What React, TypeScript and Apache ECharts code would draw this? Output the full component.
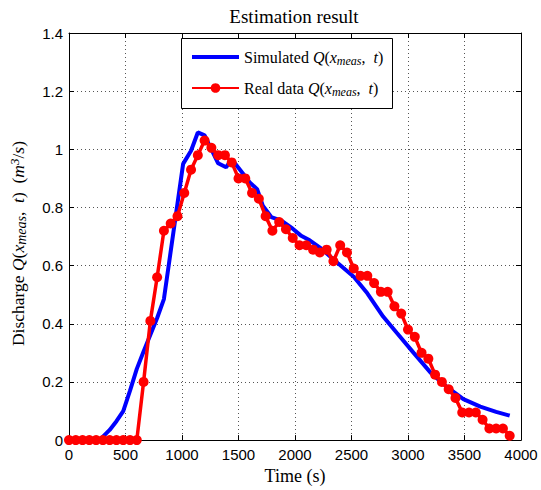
import React, { useEffect, useRef } from "react";
import * as echarts from "echarts";

// Real data (sampled every 60 s)
const realTimes = [
  0, 60, 120, 180, 240, 300, 360, 420, 480, 540, 600, 660, 720, 780, 840, 900,
  960, 1020, 1080, 1140, 1200, 1260, 1320, 1380, 1440, 1500, 1560, 1620, 1680,
  1740, 1800, 1860, 1920, 1980, 2040, 2100, 2160, 2220, 2280, 2340, 2400, 2460,
  2520, 2580, 2640, 2700, 2760, 2820, 2880, 2940, 3000, 3060, 3120, 3180, 3240,
  3300, 3360, 3420, 3480, 3540, 3600, 3660, 3720, 3780, 3840, 3900,
];
const realValues = [
  0, 0, 0, 0, 0, 0, 0, 0, 0, 0, 0, 0.2, 0.41, 0.56, 0.72, 0.745, 0.77, 0.85,
  0.93, 0.98, 1.03, 1.005, 0.98, 0.98, 0.955, 0.9, 0.9, 0.85, 0.83, 0.77, 0.72,
  0.75, 0.725, 0.695, 0.67, 0.67, 0.655, 0.645, 0.655, 0.615, 0.67, 0.645, 0.59,
  0.565, 0.565, 0.54, 0.51, 0.51, 0.46, 0.435, 0.38, 0.355, 0.3, 0.28, 0.225,
  0.2, 0.175, 0.145, 0.095, 0.095, 0.095, 0.07, 0.04, 0.04, 0.04, 0.015,
];

// Simulated curve
const simTimes = [
  0, 270, 360, 420, 480, 540, 600, 660, 720, 780, 840, 1010, 1080, 1140, 1200,
  1260, 1320, 1390, 1440, 1520, 1600, 1665, 1715, 1790, 1880, 1980, 2050, 2130,
  2230, 2380, 2520, 2640, 2780, 2900, 3050, 3200, 3350, 3490, 3640, 3780, 3900,
];
const simValues = [
  0, 0, 0.035, 0.065, 0.1, 0.17, 0.245, 0.305, 0.362, 0.42, 0.485, 0.95, 0.995,
  1.058, 1.048, 1.0, 0.952, 0.938, 0.966, 0.926, 0.886, 0.863, 0.806, 0.767,
  0.755, 0.727, 0.704, 0.687, 0.659, 0.608, 0.562, 0.505, 0.425, 0.369, 0.3,
  0.232, 0.181, 0.141, 0.115, 0.097, 0.084,
];

const xTicks = { min: 0, max: 4000, interval: 500 };
const yTicks = { min: 0, max: 1.4, interval: 0.2 };

const SERIF = "'Liberation Serif', 'DejaVu Serif', serif";
const SANS = "'Liberation Sans', Arial, sans-serif";

const richMath = (size: number, lh: number) => ({
  n: { fontFamily: SERIF, fontSize: size, color: "#000", lineHeight: lh },
  i: { fontFamily: SERIF, fontSize: size, fontStyle: "italic", color: "#000", lineHeight: lh },
  sub: {
    fontFamily: SERIF,
    fontSize: Math.round(size * 0.78),
    fontStyle: "italic",
    color: "#000",
    lineHeight: Math.round(size * 0.66),
    verticalAlign: "bottom",
  },
  sup: {
    fontFamily: SERIF,
    fontSize: Math.round(size * 0.72),
    fontStyle: "italic",
    color: "#000",
    lineHeight: Math.round(size * 0.62),
    verticalAlign: "top",
  },
});

const qLabel = "{i|Q}{n|(}{i|x}{sub|meas}{n|,  }{i|t}{n|)}";

export default function App() {
  const ref = useRef<HTMLDivElement>(null);

  useEffect(() => {
    if (!ref.current) return;
    const chart = echarts.init(ref.current, null, { renderer: "svg" });

    const gridLine = {
      show: true,
      lineStyle: { color: "#555", width: 1, type: [1, 3] as any },
    };
    const axisLine = { show: true, onZero: false, lineStyle: { color: "#000", width: 1 } };
    const tick = { show: true, inside: true, length: 5, lineStyle: { color: "#000" } };

    chart.setOption({
      animation: false,
      backgroundColor: "#fff",
      grid: { left: 67, right: 20, top: 33, bottom: 47, containLabel: false },
      graphic: [
        {
          type: "text",
          x: 294,
          y: 7,
          z: 10,
          style: {
            text: "Estimation result",
            font: `19px ${SERIF}`,
            fill: "#000",
            textAlign: "center",
            textVerticalAlign: "top",
          },
        },
        {
          type: "rect",
          z: 3,
          shape: { x: 181.5, y: 38.5, width: 211, height: 70 },
          style: { fill: "#fff", stroke: "#000", lineWidth: 1 },
        },
      ],
      legend: {
        show: true,
        orient: "vertical",
        left: 191,
        top: 49,
        z: 5,
        itemWidth: 47,
        itemHeight: 12,
        itemGap: 13,
        padding: 0,
        data: [
          { name: "Simulated", icon: "path://M0,0 L47,0 L47,4 L0,4 Z" },
          { name: "Real data" },
        ],
        formatter: (name: string) =>
          name === "Simulated" ? `{n|Simulated }${qLabel}` : `{n|Real data }${qLabel}`,
        textStyle: { rich: richMath(16, 20), padding: [0, 0, 0, 0] },
      },
      xAxis: [
        {
          type: "value",
          position: "bottom",
          ...xTicks,
          name: "Time (s)",
          nameLocation: "middle",
          nameGap: 24,
          nameTextStyle: { fontFamily: SERIF, fontSize: 18, color: "#000" },
          axisLine,
          axisTick: tick,
          axisLabel: {
            fontFamily: SANS,
            fontSize: 15,
            color: "#000",
            margin: 7,
            formatter: (v: number) => String(v),
          },
          splitLine: gridLine,
        },
        {
          type: "value",
          position: "top",
          ...xTicks,
          axisLine,
          axisTick: tick,
          axisLabel: { show: false },
          splitLine: { show: false },
        },
      ],
      yAxis: [
        {
          type: "value",
          position: "left",
          ...yTicks,
          name: `{n|Discharge }${qLabel}{n|  (}{i|m}{sup|3}{n|/}{i|s}{n|)}`,
          nameLocation: "middle",
          nameGap: 41,
          nameRotate: 90,
          nameTextStyle: { rich: richMath(17.5, 20), padding: [0, 14, 0, 0] },
          axisLine,
          axisTick: tick,
          axisLabel: {
            fontFamily: SANS,
            fontSize: 15,
            color: "#000",
            margin: 6,
            formatter: (v: number) => String(Math.round(v * 10) / 10),
          },
          splitLine: gridLine,
        },
        {
          type: "value",
          position: "right",
          ...yTicks,
          axisLine,
          axisTick: tick,
          axisLabel: { show: false },
          splitLine: { show: false },
        },
      ],
      series: [
        {
          name: "Simulated",
          type: "line",
          xAxisIndex: 0,
          yAxisIndex: 0,
          data: simTimes.map((t, i) => [t, simValues[i]]),
          symbol: "none",
          showSymbol: false,
          lineStyle: { color: "#0000ff", width: 4 },
          itemStyle: { color: "#0000ff" },
          z: 2,
        },
        {
          name: "Real data",
          type: "line",
          xAxisIndex: 0,
          yAxisIndex: 0,
          data: realTimes.map((t, i) => [t, realValues[i]]),
          symbol: "circle",
          symbolSize: 10,
          showSymbol: true,
          lineStyle: { color: "#ff0000", width: 3.5 },
          itemStyle: { color: "#ff0000" },
          z: 3,
        },
      ],
    });

    return () => chart.dispose();
  }, []);

  return (
    <div
      ref={ref}
      style={{ position: "fixed", left: 0, top: 0, width: 541, height: 490 }}
    />
  );
}
